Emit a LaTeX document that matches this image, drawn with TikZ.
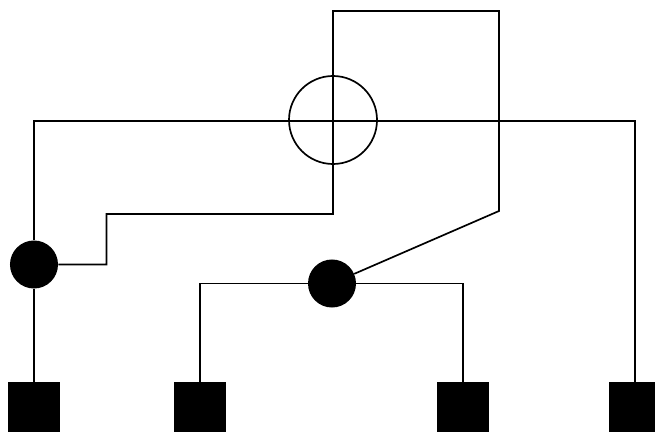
\documentclass[tikz,border=0pt]{standalone}
\usepackage{tikz}
\usetikzlibrary{positioning}

\begin{document}
\begin{tikzpicture}[x=0.025cm,y=-0.025cm,
	dot/.style={circle,fill=black,draw=none,inner sep=0pt,minimum size=1.2cm},
	ring/.style={circle,draw=black,line width=1.2pt,inner sep=0pt,minimum size=2.2cm},
	pad/.style={rectangle,fill=black,draw=none,inner sep=0pt,minimum width=1.3cm,minimum height=1.3cm},
	wire/.style={line width=1.2pt,black}]
\useasboundingbox (0,0) rectangle (655,432);
\clip (0,0) rectangle (655,432);
\node[ring] (hub) at (333,120) {};
\node[dot] (left) at (34,264.5) {};
\node[dot] (mid) at (332,283.5) {};
\node[pad] (padA) at (34,408) {};
\node[pad] (padB) at (200,408) {};
\node[pad] (padC) at (463,408) {};
\node[pad] (padD) at (635,408) {};
\draw[wire] (padA) -- (left);
\draw[wire] (left) -- (34,121) -- (635,121) -- (padD);
\draw[wire] (left) -- (106.5,264.5) -- (106.5,214) -- (333,214) -- (333,11) -- (499,11) -- (499,211) -- (mid);
\draw[wire] (padB) |- (mid);
\draw[wire] (padC) |- (mid);
\end{tikzpicture}
\end{document}
